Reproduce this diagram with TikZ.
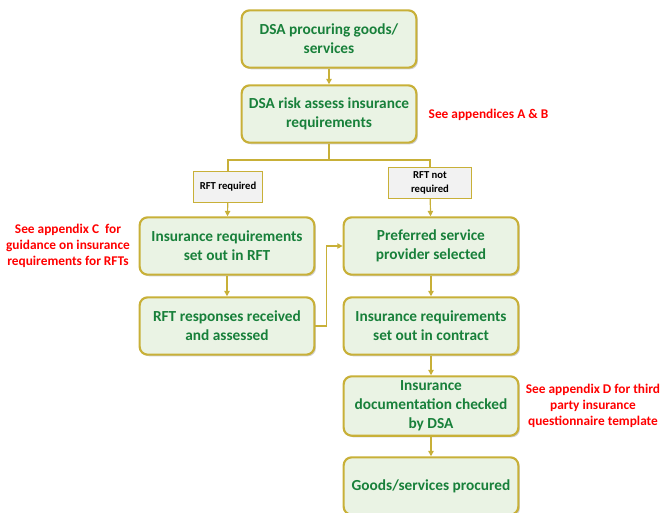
\documentclass[tikz,border=0pt]{standalone}
\usepackage{fontspec}
\setmainfont{Carlito}
\usepackage{tikz}
\usetikzlibrary{shadows,arrows.meta}
\definecolor{dsaGreen}{RGB}{24, 128, 58}
\definecolor{dsaFill}{RGB}{234, 243, 228}
\definecolor{dsaGold}{RGB}{200, 176, 56}
\definecolor{dsaGrey}{RGB}{242, 242, 242}
\definecolor{dsaRed}{RGB}{255, 0, 0}

\tikzset{
  stepbox/.style={draw=dsaGold, line width=1.6pt, fill=dsaFill, rounded corners=6pt,
    minimum width=131pt, minimum height=43pt, align=center, text=dsaGreen,
    font=\bfseries\fontsize{11.5}{14.3}\selectfont,
    drop shadow={shadow xshift=1.2pt, shadow yshift=-1.2pt, fill=black!30, opacity=.6}},
  choice/.style={draw=dsaGold, line width=0.6pt, fill=dsaGrey, align=center,
    font=\bfseries\fontsize{8}{10.5}\selectfont, inner sep=3pt},
  note/.style={text=dsaRed, align=center, font=\bfseries\fontsize{10}{12}\selectfont},
  link/.style={draw=dsaGold, line width=0.9pt},
  flow/.style={link, -{Triangle[length=4pt, width=4pt]}}
}

\begin{document}
\begin{tikzpicture}[x=0.75pt, y=-0.75pt]
\useasboundingbox (0,0) rectangle (662,512);

% Main boxes
\node[stepbox] (procure) at (329,39) {DSA procuring goods/\\services};
\node[stepbox] (risk) at (329,114) {DSA risk assess insurance\\requirements};
\node[stepbox] (inrft) at (227,246) {Insurance requirements\\set out in RFT};
\node[stepbox] (responses) at (227,326) {RFT responses received\\and assessed};
\node[stepbox] (preferred) at (431,246) {Preferred service\\provider selected};
\node[stepbox] (contract) at (431,326) {Insurance requirements\\set out in contract};
\node[stepbox] (checked) at (431,406) {Insurance\\documentation checked\\by DSA};
\node[stepbox] (procured) at (431,486) {Goods/services procured};

% Decision labels
\node[choice, minimum width=52pt, minimum height=23pt] (rftyes) at (228,187) {RFT required};
\node[choice, minimum width=62pt, minimum height=23pt] (rftno) at (430,183) {RFT not\\required};

% Notes
\node[note, anchor=west] (noteab) at (424,115) {See appendices A \& B};
\node[note] (notec) at (68,246) {See appendix C\ \ for\\guidance on insurance\\requirements for RFTs};
\node[note] (noted) at (593,406) {See appendix D for third\\party insurance\\questionnaire template};

% Connectors
\coordinate (split) at (329,160);
\draw[flow] (procure) -- (risk);
\draw[link] (risk.south) -- (split);
\draw[link] (split) -| (rftyes.north);
\draw[link] (split) -| (rftno.north);
\draw[flow] (rftyes) -- (inrft);
\draw[flow] (rftno) -- (preferred);
\draw[flow] (inrft) -- (responses);
\draw[flow] (responses.east) -- ++(11,0) |- (preferred.west);
\draw[flow] (preferred) -- (contract);
\draw[flow] (contract) -- (checked);
\draw[flow] (checked) -- (procured);
\end{tikzpicture}
\end{document}
